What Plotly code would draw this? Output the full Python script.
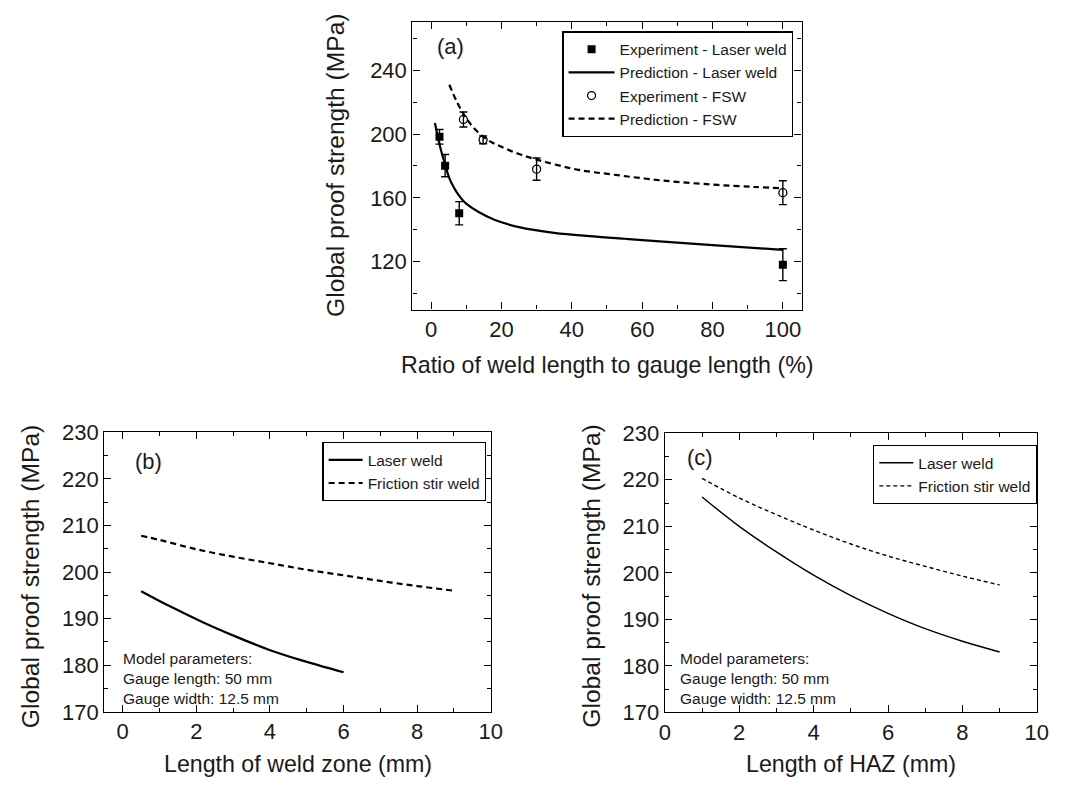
import plotly.graph_objects as go

# ---------------- data ----------------
# (a) proof strength vs weld-length ratio
laser_exp_x = [2.4, 4.0, 8.0, 100]
laser_exp_y = [198.3, 180.2, 150.3, 118]
laser_exp_err = [4.6, 7, 7.3, 10]

fsw_exp_x = [9.2, 14.8, 30, 100]
fsw_exp_y = [209.2, 196.4, 178, 163.2]
fsw_exp_err = [4.7, 2.5, 7, 7.5]

laser_pred_x = [1.1, 2.2, 3.0, 4.1, 5.0, 6.0, 7.0, 8.5, 10, 13.4, 18, 25, 35, 45, 55, 66, 80, 100]
laser_pred_y = [207, 195.5, 188.5, 180.2, 173.5, 168.5, 164.5, 159.8, 156.3, 151.2, 146.2, 141.6, 138, 135.9,
                134.3, 132.5, 130.3, 127.3]

fsw_pred_x = [5.2, 7.4, 9.7, 12.5, 16, 20, 25, 30, 36, 42, 52, 66, 80, 92, 100]
fsw_pred_y = [231, 220, 211, 203, 196.5, 192, 187.5, 184, 180.5, 177.5, 174.5, 170.8, 168.3, 166.8, 165.9]

# (b) proof strength vs weld zone length
laser_b_x = [0.5, 1.27, 2.16, 3.06, 3.95, 4.84, 6.0]
laser_b_y = [195.9, 192.7, 189.3, 186.2, 183.4, 181.1, 178.5]
fsw_b_x = [0.5, 1, 2, 3, 4, 5, 6, 7, 8, 9]
fsw_b_y = [207.8, 206.9, 204.9, 203.3, 201.9, 200.5, 199.3, 198.1, 197.0, 196.0]

# (c) proof strength vs HAZ length
laser_c_x = [1, 2, 3, 4, 5, 6, 7, 8, 9]
laser_c_y = [216.3, 210.0, 204.5, 199.5, 195.1, 191.3, 188.0, 185.3, 183.0]
fsw_c_x = [1, 2, 3, 4, 5, 6, 7, 8, 9]
fsw_c_y = [220.3, 216.1, 212.5, 209.2, 206.2, 203.6, 201.4, 199.3, 197.4]

model_text = "Model parameters:<br>Gauge length: 50 mm<br>Gauge width: 12.5 mm"
y_title = "Global proof strength (MPa)"

FONT = "Liberation Sans, Arial, sans-serif"
INK = "#1a1a1a"
W, H = 1079, 791

fig = go.Figure()

# ---- panel (a) ----
err_style = dict(type="data", color="black", thickness=1.4, width=4)
fig.add_trace(go.Scatter(
    x=laser_exp_x, y=laser_exp_y, mode="markers", name="Experiment - Laser weld",
    marker=dict(symbol="square", size=8, color="black"),
    error_y=dict(array=laser_exp_err, **err_style),
    xaxis="x", yaxis="y", legend="legend"))
fig.add_trace(go.Scatter(
    x=laser_pred_x, y=laser_pred_y, mode="lines", name="Prediction - Laser weld",
    line=dict(color="black", width=2.2, shape="spline"),
    xaxis="x", yaxis="y", legend="legend"))
fig.add_trace(go.Scatter(
    x=fsw_exp_x, y=fsw_exp_y, mode="markers", name="Experiment - FSW",
    marker=dict(symbol="circle-open", size=8, color="black", line=dict(width=1.3)),
    error_y=dict(array=fsw_exp_err, **err_style),
    xaxis="x", yaxis="y", legend="legend"))
fig.add_trace(go.Scatter(
    x=fsw_pred_x, y=fsw_pred_y, mode="lines", name="Prediction - FSW",
    line=dict(color="black", width=2.2, dash="6px,4px", shape="spline"),
    xaxis="x", yaxis="y", legend="legend"))

# ---- panel (b) ----
fig.add_trace(go.Scatter(
    x=laser_b_x, y=laser_b_y, mode="lines", name="Laser weld",
    line=dict(color="black", width=2.2, shape="spline"),
    xaxis="x2", yaxis="y2", legend="legend2"))
fig.add_trace(go.Scatter(
    x=fsw_b_x, y=fsw_b_y, mode="lines", name="Friction stir weld",
    line=dict(color="black", width=2.2, dash="6px,4px", shape="spline"),
    xaxis="x2", yaxis="y2", legend="legend2"))

# ---- panel (c) ----
fig.add_trace(go.Scatter(
    x=laser_c_x, y=laser_c_y, mode="lines", name="Laser weld",
    line=dict(color="black", width=1.4, shape="spline"),
    xaxis="x3", yaxis="y3", legend="legend3"))
fig.add_trace(go.Scatter(
    x=fsw_c_x, y=fsw_c_y, mode="lines", name="Friction stir weld",
    line=dict(color="black", width=1.4, dash="4px,3px", shape="spline"),
    xaxis="x3", yaxis="y3", legend="legend3"))


def axis(domain, rng, dtick, minor_dtick, tick0=0, anchor=None):
    return dict(
        domain=domain, range=rng, anchor=anchor, tick0=tick0, dtick=dtick,
        showline=True, linecolor="black", linewidth=1.3, mirror="ticks",
        ticks="inside", ticklen=7, tickwidth=1.3, tickcolor="black",
        minor=dict(ticks="inside", ticklen=4, tickwidth=1.2, tickcolor="black",
                   dtick=minor_dtick, tick0=tick0, showgrid=False),
        showgrid=False, zeroline=False,
        tickfont=dict(family=FONT, size=22, color=INK),
    )


def px_x(p):
    return p / W


def px_y(p):
    return 1 - p / H


legend_common = dict(
    bgcolor="white", bordercolor="black", borderwidth=1.3,
    font=dict(family=FONT, size=15.5, color=INK),
    xanchor="left", yanchor="top", tracegroupgap=0,
)

fig.update_layout(
    width=W, height=H, margin=dict(l=0, r=0, t=0, b=0),
    paper_bgcolor="white", plot_bgcolor="white",
    font=dict(family=FONT, color=INK),
    xaxis=axis([px_x(413.3), px_x(809)], [-5.3, 105.3], 20, 10, anchor="y"),
    yaxis=axis([px_y(307.3), px_y(10)], [89.8, 270.6], 40, 20, anchor="x"),
    xaxis2=axis([px_x(100), px_x(493)], [-0.5, 10], 2, 1, anchor="y2"),
    yaxis2=axis([px_y(722.7), px_y(434)], [170, 230], 10, 5, anchor="x2"),
    xaxis3=axis([px_x(670), px_x(1048.3)], [0, 10], 2, 1, anchor="y3"),
    yaxis3=axis([px_y(723.3), px_y(435)], [170, 230], 10, 5, anchor="x3"),
    legend=dict(x=px_x(565.7), y=px_y(20), itemwidth=46, **legend_common),
    legend2=dict(x=px_x(321.7), y=px_y(444), itemwidth=34, **legend_common),
    legend3=dict(x=px_x(881.7), y=px_y(447), itemwidth=34, **legend_common),
    showlegend=True,
)

x_title_font = dict(family=FONT, size=23.2, color=INK)
y_title_font = dict(family=FONT, size=24.6, color=INK)
label_font = dict(family=FONT, size=22, color=INK)
note_font = dict(family=FONT, size=15.5, color=INK)
annotations = [
    # axis titles
    dict(x=px_x(611), y=px_y(365), text="Ratio of weld length to gauge length (%)", font=x_title_font),
    dict(x=px_x(335), y=px_y(158.5), text=y_title, textangle=-90, font=y_title_font),
    dict(x=px_x(296.5), y=px_y(777), text="Length of weld zone (mm)", font=x_title_font),
    dict(x=px_x(25), y=px_y(583), text=y_title, textangle=-90, font=y_title_font),
    dict(x=px_x(859), y=px_y(777), text="Length of HAZ (mm)", font=x_title_font),
    dict(x=px_x(595), y=px_y(583), text=y_title, textangle=-90, font=y_title_font),
    # panel labels
    dict(x=px_x(452.5), y=px_y(36), text="(a)", font=label_font),
    dict(x=px_x(145), y=px_y(464), text="(b)", font=label_font),
    dict(x=px_x(706), y=px_y(460), text="(c)", font=label_font),
    # model parameter notes
    dict(x=px_x(116.5), y=px_y(688), text=model_text, align="left", xanchor="left", font=note_font),
    dict(x=px_x(683.3), y=px_y(688), text=model_text, align="left", xanchor="left", font=note_font),
]
for a in annotations:
    a.setdefault("xref", "paper")
    a.setdefault("yref", "paper")
    a.setdefault("showarrow", False)
    a.setdefault("xanchor", "center")
    a.setdefault("yanchor", "middle")
fig.update_layout(annotations=annotations)

fig.write_html("out.html")
